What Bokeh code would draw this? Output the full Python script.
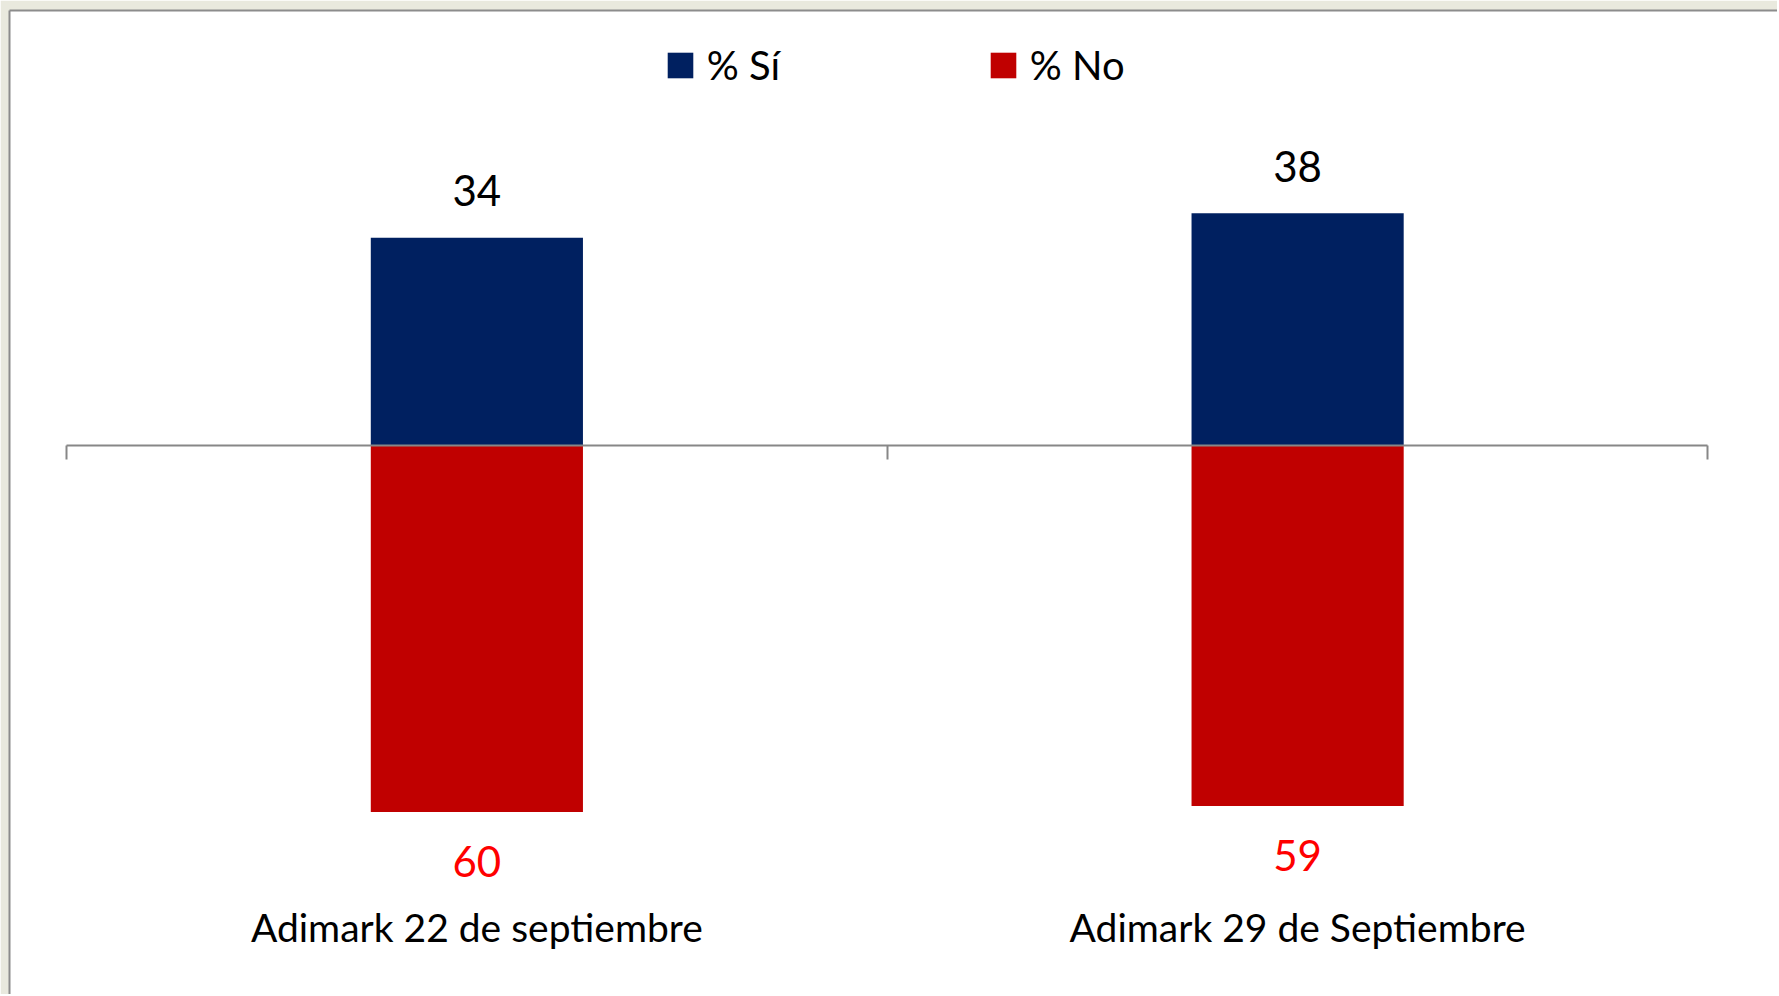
from bokeh.plotting import figure
from bokeh.models import (ColumnDataSource, LinearAxis, FixedTicker, Legend,
                          LegendItem, Range1d)
from bokeh.core.properties import value
from bokeh.embed import file_html
from bokeh.resources import INLINE

# ---- data ----
categories = ["Adimark 22 de septiembre", "Adimark 29 de Septiembre"]
si_values = [34, 38]
no_values = [60, 59]
series_names = ["% Sí", "% No"]

FONT = "Lato"
BLUE = "#002060"
RED = "#C00000"
GRAY = "#878787"
BEIGE = "#E9E9DE"

x = [i + 0.5 for i in range(len(categories))]
src = ColumnDataSource(dict(
    x=x,
    si=si_values,
    no=[-v for v in no_values],
    si_lbl=[str(v) for v in si_values],
    no_lbl=[str(v) for v in no_values],
))

p = figure(width=1777, height=994, output_backend="svg", toolbar_location=None,
           x_range=Range1d(-0.06945, 2.0847), y_range=Range1d(-89.85, 71.19),
           min_border_left=9, min_border_right=0, min_border_top=10,
           min_border_bottom=0, x_axis_location=None, y_axis_location=None)
p.background_fill_color = "white"
p.border_fill_color = BEIGE
p.outline_line_color = None
p.grid.visible = False

r_si = p.vbar(x="x", top="si", bottom=0, width=0.2585, source=src,
              fill_color=BLUE, line_color=None)
r_no = p.vbar(x="x", top=0, bottom="no", width=0.2585, source=src,
              fill_color=RED, line_color=None)

# data labels
p.text(x="x", y="si", text="si_lbl", source=src, text_align="center",
       text_baseline="alphabetic", y_offset=-47, text_font=value(FONT),
       text_font_size="42px", text_color="black")
p.text(x="x", y="no", text="no_lbl", source=src, text_align="center",
       text_baseline="alphabetic", y_offset=49.5, text_font=value(FONT),
       text_font_size="42px", text_color="#FF0000")

# category axis: line at zero, tick marks between categories,
# labels pushed down to the bottom of the chart
cat_axis = LinearAxis(fixed_location=0,
                      ticker=FixedTicker(ticks=x,
                                         minor_ticks=list(range(len(categories) + 1))),
                      bounds=(0, len(categories)),
                      major_label_overrides={xi: c for xi, c in zip(x, categories)},
                      axis_line_color=GRAY, axis_line_width=2,
                      major_tick_line_color=None, major_tick_in=0, major_tick_out=0,
                      minor_tick_line_color=GRAY, minor_tick_line_width=2,
                      minor_tick_in=0, minor_tick_out=14,
                      major_label_standoff=445,
                      major_label_text_font=FONT,
                      major_label_text_font_size="39px",
                      major_label_text_color="black")
p.add_layout(cat_axis, "below")

# chart border lines (left / top)
for side in ("left", "above"):
    b = LinearAxis(ticker=FixedTicker(ticks=[]), axis_line_color="#8C8C8C",
                   axis_line_width=2, major_tick_out=0, major_tick_in=0,
                   minor_tick_out=0, minor_tick_in=0, major_label_standoff=0,
                   major_tick_line_color=None, minor_tick_line_color=None)
    p.add_layout(b, side)

legend = Legend(items=[LegendItem(label=series_names[0], renderers=[r_si]),
                       LegendItem(label=series_names[1], renderers=[r_no])],
                orientation="horizontal", location=(654.75, 905),
                glyph_width=32, glyph_height=32, label_standoff=11,
                label_width=280, spacing=0, padding=0, margin=0,
                border_line_color=None, background_fill_alpha=0,
                label_text_font=FONT, label_text_font_size="40px",
                label_text_color="black")
p.add_layout(legend, "center")

open("out.html", "w").write(file_html(p, INLINE))
